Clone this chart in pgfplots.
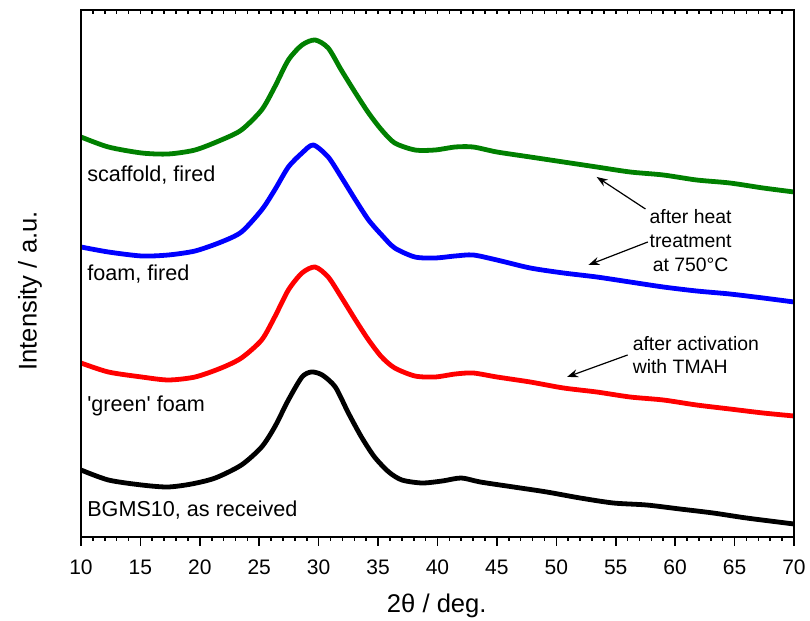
\documentclass[border=0pt]{standalone}
\usepackage{fontspec}
\setmainfont{Liberation Sans}
\usepackage{pgfplots}
\pgfplotsset{compat=1.18}
\usetikzlibrary{arrows.meta}

\definecolor{xgreen}{RGB}{0,128,0}

\begin{document}
\begin{tikzpicture}
\begin{axis}[
    at={(0,0)}, anchor=south west,
    scale only axis,
    width=356.5pt, height=263.5pt,
    xmin=10, xmax=70, ymin=0, ymax=527,
    xtick distance=5, minor x tick num=4,
    xtick pos=left, xtick align=outside,
    ytick=\empty,
    minor ytick={527,513.1,...,0},
    ytick pos=both, ytick align=inside,
    major tick length=4.5pt, minor tick length=2pt,
    axis line style={line width=1pt},
    every tick/.style={black, line width=0.8pt},
    /pgf/number format/assume math mode=true,
    ticklabel style={font=\fontsize{10.5}{12}\selectfont},
    xticklabel style={yshift=-3.5pt},
    xlabel={2θ / deg.},
    ylabel={Intensity / a.u.},
    label style={font=\fontsize{12.8}{16}\selectfont},
    xlabel style={at={(axis description cs:0.499,-0.130)}, anchor=center},
    ylabel style={at={(axis description cs:-0.0715,0.467)}, anchor=center},
    every axis plot/.append style={line width=2.4pt, line join=round, smooth, tension=0.45},
    clip=false,
]
% BGMS10, as received
\addplot[black] coordinates {
    (10,67) (12.3,57) (15.1,52) (17.3,50) (19.3,53) (21.3,59) (23.5,72)
    (25.2,90) (26.3,110) (27.45,137) (28.6,160) (29.4,165) (30.3,162)
    (31.4,150) (32.5,124) (33.6,100) (34.7,80) (35.9,65) (37.0,57)
    (38.7,54) (40.4,56) (42.0,59) (43.6,55) (46.4,50) (49.2,45) (52.0,39)
    (54.8,34) (57.6,32) (60.4,28) (63.2,24) (66.0,19) (70,13)
};
% 'green' foam
\addplot[red] coordinates {
    (10,174) (12.3,165) (15.1,160) (17.35,157) (19.6,160) (21.8,169)
    (23.5,179) (25.2,197) (26.3,220) (27.45,247) (28.6,264) (29.7,270)
    (30.8,260) (31.9,240) (33.1,217) (34.2,197) (35.3,180) (36.4,169)
    (38.1,161) (39.8,160) (41.5,163) (43.0,164) (45.0,160) (47.8,155)
    (50.6,149) (53.4,145) (56.2,140) (59.0,137) (61.8,132) (64.6,128)
    (67.4,124) (70,121)
};
% foam, fired
\addplot[blue] coordinates {
    (10,290) (12.3,285) (15.1,281) (17.35,282) (19.6,286) (21.8,295)
    (23.5,305) (25.2,327) (26.3,347) (27.45,370) (28.6,384) (29.55,392)
    (30.8,380) (31.9,360) (33.1,337) (34.2,317) (35.3,302) (36.4,289)
    (38.1,280) (39.8,279) (41.5,281) (43.0,282) (45.0,277) (47.8,269)
    (50.6,264) (53.4,260) (56.2,255) (59.0,250) (61.8,246) (64.6,243)
    (67.4,239) (70,235)
};
% scaffold, fired
\addplot[xgreen] coordinates {
    (10,400) (12.3,390) (15.1,384) (17.35,383) (19.6,387) (21.8,397)
    (23.5,407) (25.2,427) (26.3,450) (27.45,477) (28.6,492) (29.7,497)
    (30.8,489) (31.9,467) (33.1,444) (34.2,424) (35.3,407) (36.4,394)
    (38.1,387) (39.8,387) (41.5,390) (43.0,390) (45.0,385) (47.8,380)
    (50.6,375) (53.4,370) (56.2,365) (59.0,362) (61.8,357) (64.6,354)
    (67.4,349) (70,345)
};

\begin{scope}[every node/.style={font=\fontsize{10.8}{12}\selectfont, inner sep=0pt, anchor=west}]
\node at (axis cs:10.5,362) {scaffold, fired};
\node at (axis cs:10.5,263) {foam, fired};
\node at (axis cs:10.5,131) {\textquotesingle green\textquotesingle\ foam};
\node at (axis cs:10.5,27) {BGMS10, as received};
\end{scope}

\node[font=\fontsize{9.7}{12}\selectfont, align=center, inner sep=0pt]
    at (axis cs:61.3,296) {after heat\\treatment\\at 750°C};
\node[font=\fontsize{9.7}{11.5}\selectfont, align=left, inner sep=0pt, anchor=west]
    at (axis cs:56.4,182) {after activation\\with TMAH};

\draw[-{Stealth[length=5.5pt,width=4pt]}, line width=0.6pt]
    (axis cs:57.5,328) -- (axis cs:53.4,360);
\draw[-{Stealth[length=5.5pt,width=4pt]}, line width=0.6pt]
    (axis cs:57.7,295) -- (axis cs:52.7,272);
\draw[-{Stealth[length=5.5pt,width=4pt]}, line width=0.6pt]
    (axis cs:56.0,182) -- (axis cs:50.9,160);
\end{axis}

% top axis ticks pointing inward
\begin{axis}[
    at={(0,0)}, anchor=south west,
    scale only axis,
    width=356.5pt, height=263.5pt,
    xmin=10, xmax=70, ymin=0, ymax=527,
    xtick distance=5, minor x tick num=4,
    xtick pos=right, xtick align=inside,
    xticklabels={}, ytick=\empty,
    major tick length=2pt, minor tick length=2pt,
    axis line style={line width=1pt},
    every tick/.style={black, line width=0.8pt},
]
\end{axis}

\pgfresetboundingbox
\path (-40.5pt,-42pt) rectangle (364.5pt,268.5pt);
\end{tikzpicture}
\end{document}
